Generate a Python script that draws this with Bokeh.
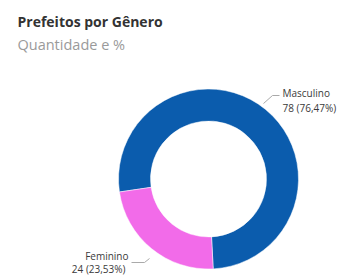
import math
from bokeh.plotting import figure
from bokeh.models import Range1d, ColumnDataSource
from bokeh.core.properties import value
from bokeh.embed import file_html
from bokeh.resources import INLINE

# ---- data ----
categories = ["Masculino", "Feminino"]
counts = [78, 24]
percent_labels = ["76,47%", "23,53%"]
colors = ["#0B5CAD", "#F26BE9"]
title = "Prefeitos por Gênero"
subtitle = "Quantidade e %"

W, H = 348, 277
p = figure(width=W, height=H, output_backend="svg", toolbar_location=None,
           x_range=Range1d(0, W), y_range=Range1d(0, H),
           min_border=0, outline_line_color=None)
p.axis.visible = False
p.grid.visible = False
p.background_fill_color = "white"
p.border_fill_color = "white"

def Y(py):
    return H - py

cx, cy = 208, Y(178.5)
r_out, r_in = 90, 58
start0 = math.radians(273)

total = sum(counts)
starts, ends = [], []
a = start0
for c in counts:
    sweep = 2 * math.pi * c / total
    starts.append(a)
    ends.append(a + sweep)
    a += sweep

src = ColumnDataSource(dict(start=starts, end=ends, color=colors))
p.annular_wedge(x=cx, y=cy, inner_radius=r_in, outer_radius=r_out,
                start_angle="start", end_angle="end", direction="anticlock",
                fill_color="color", line_color="white", line_width=0.5, source=src)

# title
p.text(x=[17], y=[Y(21)], text=[title], text_font=value("Open Sans"),
       text_font_style="bold", text_font_size="14px", text_color="#333333",
       text_baseline="middle", text_align="left")
p.text(x=[17], y=[Y(44)], text=[subtitle], text_font=value("Open Sans"),
       text_font_size="14.5px", text_color="#9a9a9a",
       text_baseline="middle", text_align="left")

# labels
lab1 = [f"{counts[0]} ({percent_labels[0]})"]
p.text(x=[282], y=[Y(92)], text=[categories[0]], text_font=value("Open Sans"),
       text_font_size="10px", text_color="#3a3a3a", text_baseline="middle", text_align="left")
p.text(x=[282], y=[Y(107)], text=lab1, text_font=value("Open Sans"),
       text_font_size="10px", text_color="#3a3a3a", text_baseline="middle", text_align="left")
p.line(x=[263, 272, 279], y=[Y(103), Y(95), Y(95)], line_color="#aaaaaa", line_width=1)

lab2 = [f"{counts[1]} ({percent_labels[1]})"]
p.text(x=[128], y=[Y(255)], text=[categories[1]], text_font=value("Open Sans"),
       text_font_size="10px", text_color="#3a3a3a", text_baseline="middle", text_align="right")
p.text(x=[125], y=[Y(268)], text=lab2, text_font=value("Open Sans"),
       text_font_size="10px", text_color="#3a3a3a", text_baseline="middle", text_align="right")
p.line(x=[131, 144, 149], y=[Y(262), Y(262), Y(258)], line_color="#aaaaaa", line_width=1)

open("out.html", "w").write(file_html(p, INLINE))
